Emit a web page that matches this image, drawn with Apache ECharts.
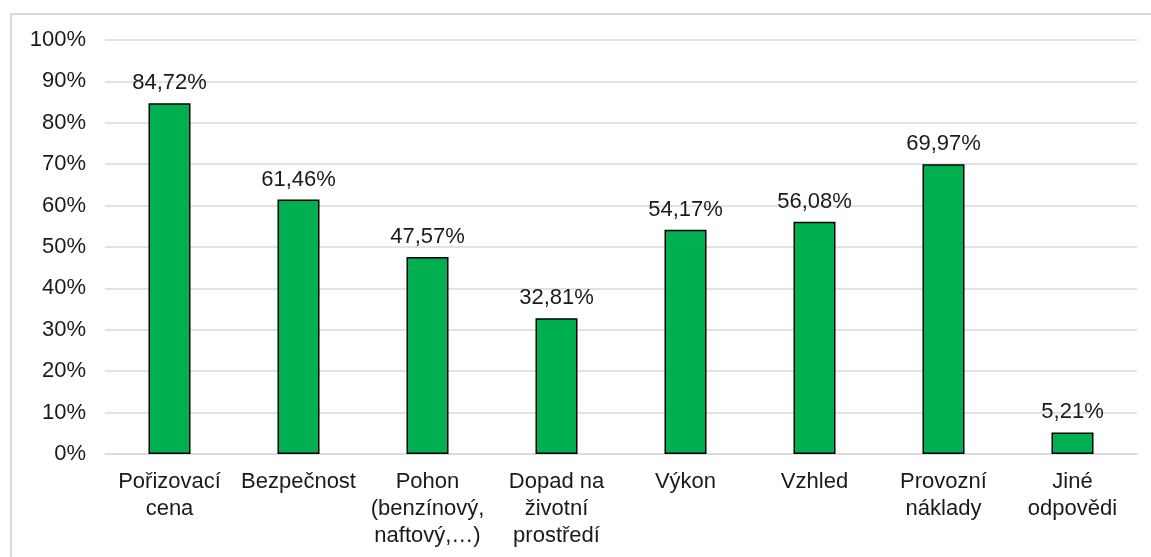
<!DOCTYPE html>
<html>
<head>
<meta charset="utf-8">
<script src="https://cdn.jsdelivr.net/npm/echarts@6/dist/echarts.min.js"></script>
<style>
  html, body { margin: 0; padding: 0; background: #fff; }
  #chart { width: 1151px; height: 557px; }
</style>
</head>
<body>
<div id="chart"></div>
<script>
// Categories (reasons for choosing a car) and their share of respondents, in %
const categories = [
  'Pořizovací\ncena',
  'Bezpečnost',
  'Pohon\n(benzínový,\nnaftový,…)',
  'Dopad na\nživotní\nprostředí',
  'Výkon',
  'Vzhled',
  'Provozní\nnáklady',
  'Jiné\nodpovědi'
];
const values = [84.72, 61.46, 47.57, 32.81, 54.17, 56.08, 69.97, 5.21];
const yTicks = [0, 10, 20, 30, 40, 50, 60, 70, 80, 90, 100];

const FONT = '"Liberation Sans", Arial, sans-serif';
const TEXT = '#1a1a1a';

const fmtPct = v => v.toFixed(2).replace('.', ',') + '%';

const chart = echarts.init(document.getElementById('chart'), null, { renderer: 'canvas' });
chart.setOption({
  animation: false,
  backgroundColor: '#ffffff',
  graphic: [{
    type: 'rect',
    shape: { x: 11, y: 14, width: 1300, height: 700 },
    style: { fill: 'none', stroke: '#d9d9d9', lineWidth: 2 },
    silent: true
  }],
  grid: { left: 105, right: 14, top: 40, bottom: 103, containLabel: false },
  xAxis: {
    type: 'category',
    data: categories,
    axisLine: { show: true, lineStyle: { color: '#d9d9d9', width: 1.5 } },
    axisTick: { show: false },
    axisLabel: {
      interval: 0,
      margin: 14,
      fontFamily: FONT,
      fontSize: 22,
      lineHeight: 27,
      color: TEXT,
      align: 'center'
    }
  },
  yAxis: {
    type: 'value',
    min: yTicks[0],
    max: yTicks[yTicks.length - 1],
    interval: yTicks[1] - yTicks[0],
    axisLine: { show: false },
    axisTick: { show: false },
    splitLine: { show: true, lineStyle: { color: '#d9d9d9', width: 1.5 } },
    axisLabel: {
      margin: 19,
      fontFamily: FONT,
      fontSize: 22,
      color: TEXT,
      formatter: v => v + '%'
    }
  },
  series: [{
    type: 'bar',
    data: values,
    barWidth: 42,
    itemStyle: { color: '#00B050', borderColor: '#000000', borderWidth: 1.5 },
    label: {
      show: true,
      position: 'top',
      distance: 9,
      fontFamily: FONT,
      fontSize: 22,
      color: TEXT,
      formatter: p => fmtPct(p.value)
    }
  }]
});
</script>
</body>
</html>
